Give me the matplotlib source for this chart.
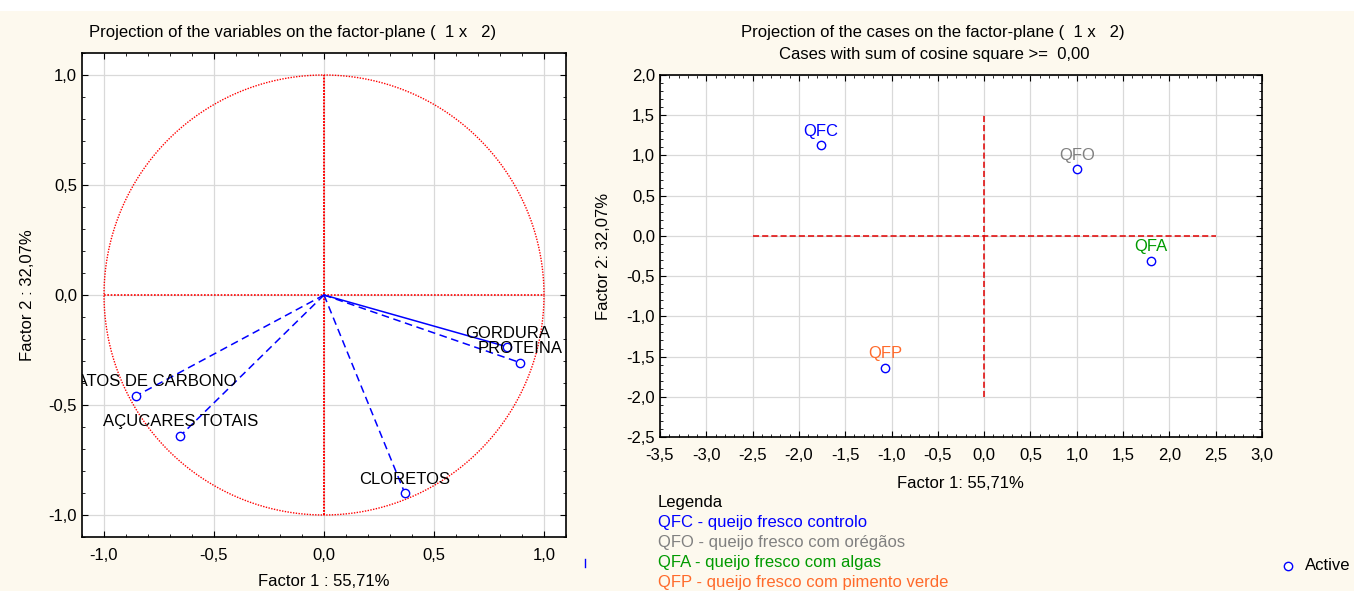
import numpy as np
import matplotlib.pyplot as plt
from matplotlib.ticker import FuncFormatter, MultipleLocator
from matplotlib.patches import Rectangle

plt.rcParams["font.family"] = ["Liberation Sans", "DejaVu Sans"]

W, H = 1354, 591

# variables (loadings on factor 1 and 2)
var_names = ["GORDURA", "PROTEINA", "HIDRATOS DE CARBONO", "AÇUCARES TOTAIS", "CLORETOS"]
var_f1 = [0.834, 0.893, -0.853, -0.653, 0.367]
var_f2 = [-0.236, -0.308, -0.458, -0.640, -0.900]
var_styles = ["-", "--", "--", "--", "--"]

# cases (scores on factor 1 and 2)
case_names = ["QFC", "QFO", "QFA", "QFP"]
case_f1 = [-1.76, 1.00, 1.80, -1.07]
case_f2 = [1.13, 0.83, -0.31, -1.64]
case_colors = ["#0000ff", "#808080", "#009a00", "#ff6a2b"]

legend_title = "Legenda"
legend_lines = [
    "QFC - queijo fresco controlo",
    "QFO - queijo fresco com orégãos",
    "QFA - queijo fresco com algas",
    "QFP - queijo fresco com pimento verde",
]

BG = "#fdf9ee"
BLUE = "#0000ff"
RED = "#ff0000"


def comma(v, pos):
    return f"{v:.1f}".replace(".", ",").replace("-0,0", "0,0")


def px(x, y):
    return x / W, 1 - y / H


def style_axes(ax):
    ax.set_facecolor("white")
    ax.tick_params(which="both", direction="in", top=True, right=True,
                   labelsize=12, colors="black")
    ax.tick_params(which="major", length=4)
    ax.tick_params(which="minor", length=2.5)
    ax.tick_params(axis="x", which="major", pad=8)
    ax.grid(True, which="major", color="#d9d9d9", lw=0.9)
    ax.xaxis.set_major_formatter(FuncFormatter(comma))
    ax.yaxis.set_major_formatter(FuncFormatter(comma))
    for s in ax.spines.values():
        s.set_color("black")
        s.set_linewidth(1.2)


fig = plt.figure(figsize=(W / 100, H / 100), dpi=100, facecolor=BG)
fig.patches.append(Rectangle((0, 1 - 11 / H), 1, 11 / H, transform=fig.transFigure,
                             facecolor="white", edgecolor="none", zorder=0))

# ---- left: variables ----
ax1 = fig.add_axes([82 / W, 1 - 537 / H, 484 / W, 484 / H])
style_axes(ax1)
ax1.set_xlim(-1.1, 1.1)
ax1.set_ylim(-1.1, 1.1)
ax1.xaxis.set_major_locator(MultipleLocator(0.5))
ax1.yaxis.set_major_locator(MultipleLocator(0.5))
ax1.xaxis.set_minor_locator(MultipleLocator(0.1))
ax1.yaxis.set_minor_locator(MultipleLocator(0.1))

t = np.linspace(0, 2 * np.pi, 400)
ax1.plot(np.cos(t), np.sin(t), color=RED, lw=1, ls=(0, (1, 1)))
ax1.plot([-1, 1], [0, 0], color=RED, lw=1.2, ls=(0, (1, 1)))
ax1.plot([0, 0], [-1, 1], color=RED, lw=1.4, ls=(0, (1, 0.6)))

for name, x, y, ls in zip(var_names, var_f1, var_f2, var_styles):
    ax1.plot([0, x], [0, y], color=BLUE, lw=1.1, ls=ls if ls == "-" else (0, (5, 3)))
    ax1.plot(x, y, "o", mfc="white", mec=BLUE, ms=6, mew=1)
    ax1.annotate(name, (x, y), xytext=(0, 10), textcoords="offset points",
                 ha="center", va="center", fontsize=12, annotation_clip=False,
                 clip_on=True)

fig.text(*px(293, 33), "Projection of the variables on the factor-plane (  1 x   2)",
         ha="center", va="center", fontsize=12)
fig.text(*px(27, 295), "Factor 2 : 32,07%", rotation=90, ha="center", va="center", fontsize=12)
fig.text(*px(324, 582), "Factor 1 : 55,71%", ha="center", va="center", fontsize=12)
fig.add_artist(plt.Line2D([585 / W, 585 / W], [1 - 559 / H, 1 - 567 / H],
                          transform=fig.transFigure, color=BLUE, lw=1))

# ---- right: cases ----
ax2 = fig.add_axes([660 / W, 1 - 437 / H, 602 / W, 362 / H])
style_axes(ax2)
ax2.set_xlim(-3.5, 3.0)
ax2.set_ylim(-2.5, 2.0)
ax2.xaxis.set_major_locator(MultipleLocator(0.5))
ax2.yaxis.set_major_locator(MultipleLocator(0.5))
ax2.xaxis.set_minor_locator(MultipleLocator(0.1))
ax2.yaxis.set_minor_locator(MultipleLocator(0.1))

ax2.plot([-2.5, 2.5], [0, 0], color="#e00000", lw=1.1, ls=(0, (4, 2)))
ax2.plot([0, 0], [-2.0, 1.5], color="#e00000", lw=1.1, ls=(0, (4, 2)))

for name, x, y, c in zip(case_names, case_f1, case_f2, case_colors):
    ax2.plot(x, y, "o", mfc="white", mec=BLUE, ms=6, mew=1)
    ax2.annotate(name, (x, y), xytext=(0, 10), textcoords="offset points",
                 ha="center", va="center", fontsize=12, color=c)

fig.text(*px(933, 33), "Projection of the cases on the factor-plane (  1 x   2)",
         ha="center", va="center", fontsize=12)
fig.text(*px(934, 55), "Cases with sum of cosine square >=  0,00",
         ha="center", va="center", fontsize=12)
fig.text(*px(603, 256), "Factor 2: 32,07%", rotation=90, ha="center", va="center", fontsize=12)
fig.text(*px(960, 483), "Factor 1: 55,71%", ha="center", va="center", fontsize=12)

# legend text block
fig.text(*px(658, 503), legend_title, ha="left", va="center", fontsize=12, color="black")
for i, (line, c) in enumerate(zip(legend_lines, case_colors)):
    fig.text(*px(658, 523 + 20 * i), line, ha="left", va="center", fontsize=12, color=c)

fig.add_artist(plt.Line2D([1288 / W], [1 - 566 / H], transform=fig.transFigure,
                          marker="o", mfc="white", mec=BLUE, ms=6, mew=1, ls="none"))
fig.text(*px(1305, 566), "Active", ha="left", va="center", fontsize=12)

fig.savefig("out.png", dpi=100, facecolor=BG)
